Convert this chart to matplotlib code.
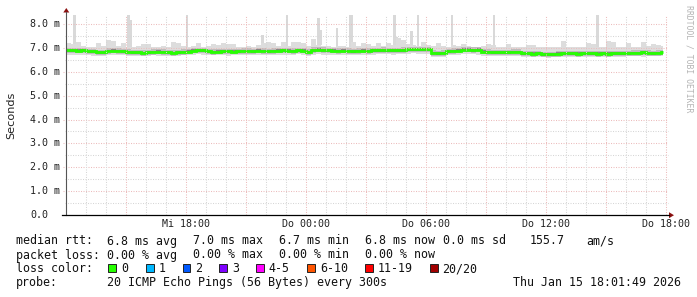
import numpy as np
import matplotlib
matplotlib.use("Agg")
import matplotlib.pyplot as plt
from matplotlib.patches import Polygon, Rectangle
from matplotlib.lines import Line2D
import matplotlib.transforms as mtransforms

# ---------------- data ----------------
step_h = 0.25            # 15-minute steps, hours since Wed 12:00
end_h = 29.85            # last sample end (Thu ~17:51)

median_ms = [
    6.90, 6.91, 6.89, 6.90, 6.87, 6.86, 6.83, 6.82, 6.88, 6.89, 6.88, 6.86,
    6.84, 6.83, 6.81, 6.80, 6.82, 6.84, 6.85, 6.84, 6.81, 6.80, 6.82, 6.84,
    6.85, 6.89, 6.90, 6.91, 6.87, 6.84, 6.85, 6.86, 6.86, 6.85, 6.87, 6.88,
    6.88, 6.87, 6.89, 6.88, 6.87, 6.88, 6.89, 6.90, 6.89, 6.88, 6.90, 6.89,
    6.84, 6.92, 6.93, 6.92, 6.90, 6.89, 6.88, 6.89, 6.88, 6.87, 6.88, 6.89,
    6.88, 6.90, 6.91, 6.92, 6.91, 6.90, 6.91, 6.92, 6.95, 6.96, 6.95, 6.94,
    6.95, 6.80, 6.79, 6.80, 6.87, 6.88, 6.89, 6.93, 6.93, 6.92, 6.93, 6.85,
    6.84, 6.82, 6.81, 6.82, 6.83, 6.84, 6.84, 6.78, 6.77, 6.76, 6.77, 6.74,
    6.73, 6.74, 6.76, 6.77, 6.78, 6.77, 6.76, 6.77, 6.78, 6.77, 6.76, 6.77,
    6.76, 6.77, 6.78, 6.77, 6.79, 6.80, 6.80, 6.81, 6.80, 6.79, 6.80, 6.81,
]

smoke_hi_ms = [
    7.19, 7.17, 7.26, 7.08, 7.05, 7.06, 7.19, 7.07, 7.33, 7.30, 7.10, 7.20,
    7.06, 7.05, 7.07, 7.15, 7.15, 7.06, 7.04, 7.08, 7.06, 7.26, 7.22, 7.07,
    7.05, 7.08, 7.20, 7.06, 7.07, 7.15, 7.14, 7.19, 7.18, 7.15, 7.06, 7.05,
    7.07, 7.06, 7.12, 7.22, 7.26, 7.19, 7.08, 7.26, 7.10, 7.26, 7.24, 7.19,
    7.08, 7.37, 7.12, 7.10, 7.07, 7.06, 7.09, 7.08, 7.06, 7.26, 7.08, 7.19,
    7.18, 7.07, 7.19, 7.10, 7.22, 7.12, 7.40, 7.35, 7.15, 7.12, 7.10, 7.26,
    7.12, 7.08, 7.19, 7.08, 7.06, 7.12, 7.08, 7.15, 7.07, 7.06, 7.05, 7.07,
    7.15, 7.14, 7.06, 7.05, 7.15, 7.06, 7.04, 7.05, 7.12, 7.11, 7.03, 7.02,
    7.03, 7.04, 7.06, 7.29, 7.05, 7.04, 7.06, 7.05, 7.19, 7.17, 7.05, 7.04,
    7.29, 7.25, 7.06, 7.04, 7.19, 7.05, 7.06, 7.25, 7.07, 7.15, 7.14, 7.08,
]

smoke_lo_ms = [
    6.72, 6.70, 6.71, 6.69, 6.70, 6.68, 6.66, 6.67, 6.70, 6.71, 6.69, 6.70,
    6.68, 6.67, 6.66, 6.65, 6.67, 6.69, 6.68, 6.67, 6.66, 6.65, 6.68, 6.70,
    6.71, 6.72, 6.73, 6.72, 6.70, 6.69, 6.70, 6.69, 6.68, 6.70, 6.71, 6.70,
    6.72, 6.71, 6.70, 6.72, 6.71, 6.70, 6.69, 6.71, 6.72, 6.71, 6.73, 6.72,
    6.66, 6.72, 6.73, 6.71, 6.70, 6.69, 6.70, 6.71, 6.70, 6.69, 6.70, 6.71,
    6.70, 6.72, 6.73, 6.74, 6.73, 6.72, 6.73, 6.74, 6.76, 6.77, 6.76, 6.75,
    6.74, 6.63, 6.62, 6.64, 6.70, 6.71, 6.72, 6.75, 6.74, 6.73, 6.72, 6.68,
    6.67, 6.66, 6.65, 6.66, 6.67, 6.68, 6.67, 6.64, 6.62, 6.61, 6.62, 6.60,
    6.59, 6.60, 6.62, 6.63, 6.64, 6.63, 6.62, 6.63, 6.64, 6.62, 6.63, 6.62,
    6.63, 6.64, 6.63, 6.64, 6.65, 6.66, 6.65, 6.64, 6.66, 6.65, 6.66, 6.67,
]

spike_hours = [0.42, 3.12, 3.22, 6.05, 9.82, 11.05, 12.62, 12.72, 13.55, 14.20,
               14.30, 16.42, 16.52, 17.27, 17.60, 19.30, 21.40, 26.57]
spike_ms = [8.45, 8.45, 8.18, 8.45, 7.54, 8.45, 8.24, 7.76, 7.83, 8.45,
            8.45, 8.45, 7.45, 7.72, 8.45, 8.45, 8.45, 8.45]

ytick_values = [0, 1, 2, 3, 4, 5, 6, 7, 8]
ytick_labels = ["0.0", "1.0 m", "2.0 m", "3.0 m", "4.0 m", "5.0 m", "6.0 m", "7.0 m", "8.0 m"]
xtick_hours = [6, 12, 18, 24, 30]
xtick_labels = ["Mi 18:00", "Do 00:00", "Do 06:00", "Do 12:00", "Do 18:00"]

loss_labels = ["0", "1", "2", "3", "4-5", "6-10", "11-19", "20/20"]
loss_colors = ["#26ff00", "#00b8ff", "#0059ff", "#7e00ff", "#ff00ff", "#ff5500", "#ff0000", "#a10000"]

row1 = ["median rtt:", "6.8 ms avg", "7.0 ms max", "6.7 ms min", "6.8 ms now", "0.0 ms sd", "155.7", "am/s"]
row2 = ["packet loss:", "0.00 % avg", "0.00 % max", "0.00 % min", "0.00 % now"]
probe_text = ["probe:", "20 ICMP Echo Pings (56 Bytes) every 300s"]
date_text = "Thu Jan 15 18:01:49 2026"

# ---------------- figure ----------------
W, H = 697, 297
fig = plt.figure(figsize=(W / 100, H / 100), dpi=100)
fig.patch.set_facecolor("white")

def fx(px):
    return px / W

def fy(py):
    return 1 - py / H

MONO = "DejaVu Sans Mono"

ax = fig.add_axes([fx(66), fy(215), 600 / W, 200 / H])
ax.set_facecolor("white")
ax.set_xlim(0, 30)
ax.set_ylim(0, 8.38)
for s in ax.spines.values():
    s.set_visible(False)
ax.tick_params(axis="both", length=0)
ax.set_yticks([])

med = np.array(median_ms)
hi = np.array(smoke_hi_ms)
lo = np.array(smoke_lo_ms)
t = np.arange(len(med)) * step_h
edges = np.append(t, end_h)

# smoke
ax.stairs(hi, edges, baseline=lo, fill=True, color="#dddddd", zorder=2, lw=0)
ax.stairs(np.minimum(med + 0.10, hi), edges, baseline=np.maximum(med - 0.12, lo),
          fill=True, color="#bcbcbc", zorder=3, lw=0)
ax.stairs(med + 0.05, edges, baseline=med - 0.07, fill=True, color="#858585", zorder=4, lw=0)

# spikes (single high pings)
spike_w = 0.12
for h_, v_ in zip(spike_hours, spike_ms):
    idx = min(int(h_ / step_h), len(hi) - 1)
    ax.bar(h_, v_ - hi[idx], bottom=hi[idx], width=spike_w, color="#d9d9d9",
           lw=0, zorder=1.5, align="center")

# median line
ax.stairs(med, edges, color="#26ff00", lw=2.0, zorder=6, baseline=None)

# grid
dot = (0, (1, 1.4))
MAJ = "#ecbcbc"
MIN = "#d6d6d6"
for v in np.arange(0.5, 8.38, 0.5):
    major = abs(v - round(v)) < 1e-6
    col = MAJ if major else MIN
    x0 = -0.17 if major else -0.07
    ax.plot([x0, 30.1], [v, v], ls=dot, lw=0.75, color=col, zorder=7, clip_on=False)
for hh in range(1, 31):
    major = hh % 3 == 0
    col = MAJ if major else MIN
    ax.plot([hh, hh], [0, 8.38], ls=dot, lw=0.75, color=col, zorder=7, clip_on=False)

# x tick labels
ax.set_xticks(xtick_hours)
ax.set_xticklabels(xtick_labels, fontfamily=MONO, fontsize=7.2, color="#222222")
ax.tick_params(axis="x", pad=3.2)

# y tick labels (left aligned like rrdtool)
ytr = mtransforms.blended_transform_factory(fig.transFigure, ax.transData)
for v, lab in zip(ytick_values, ytick_labels):
    ax.text(fx(30), v, lab, transform=ytr, ha="left", va="center",
            fontfamily=MONO, fontsize=7.2, color="#222222")

# axes lines and arrows
fig.add_artist(Line2D([fx(66), fx(66)], [fy(215), fy(12)], color="#555555", lw=0.8))
fig.add_artist(Line2D([fx(62), fx(669)], [fy(215), fy(215)], color="black", lw=0.9))
fig.add_artist(Polygon([[fx(63.3), fy(12.5)], [fx(69.3), fy(12.5)], [fx(66.3), fy(8)]],
                       closed=True, color="#8b1010", lw=0))
fig.add_artist(Polygon([[fx(669), fy(212.2)], [fx(669), fy(218.2)], [fx(674), fy(215.2)]],
                       closed=True, color="#8b1010", lw=0))

# axis title
fig.text(fx(11), fy(115.5), "Seconds", rotation=90, ha="center", va="center",
         fontfamily="DejaVu Sans", fontsize=8.1, color="#222222")

# watermark
fig.text(fx(688.5), fy(5), "RRDTOOL / TOBI OETIKER", rotation=270, ha="center", va="top",
         fontfamily=MONO, fontsize=5.9, color="#b4b4b4")

# legend
LS = 8.4
r1_x = [16, 107.3, 193.3, 279.3, 365, 442.7, 530, 586.7]
for x_, s_ in zip(r1_x, row1):
    fig.text(fx(x_), fy(241), s_, ha="left", va="center", fontfamily=MONO, fontsize=LS, color="#111111")
r2_x = [16, 107.3, 193.3, 279.3, 365]
for x_, s_ in zip(r2_x, row2):
    fig.text(fx(x_), fy(255), s_, ha="left", va="center", fontfamily=MONO, fontsize=LS, color="#111111")

fig.text(fx(16), fy(268.5), "loss color:", ha="left", va="center", fontfamily=MONO, fontsize=LS, color="#111111")
box_x = [108.3, 146, 182.7, 219.3, 256, 307.3, 365, 430]
for bx, lab, col in zip(box_x, loss_labels, loss_colors):
    fig.add_artist(Rectangle((fx(bx), fy(272.2)), 7.8 / W, 7.8 / H, facecolor=col,
                             edgecolor="#222222", lw=0.7))
    fig.text(fx(bx + 12.5), fy(268.5), lab, ha="left", va="center", fontfamily=MONO,
             fontsize=LS, color="#111111")

fig.text(fx(16), fy(282.5), probe_text[0], ha="left", va="center", fontfamily=MONO, fontsize=LS, color="#111111")
fig.text(fx(107.3), fy(282.5), probe_text[1], ha="left", va="center", fontfamily=MONO, fontsize=LS, color="#111111")
fig.text(fx(681), fy(282.5), date_text, ha="right", va="center", fontfamily=MONO, fontsize=LS, color="#111111")

fig.savefig("out.png", dpi=100, facecolor="white")
